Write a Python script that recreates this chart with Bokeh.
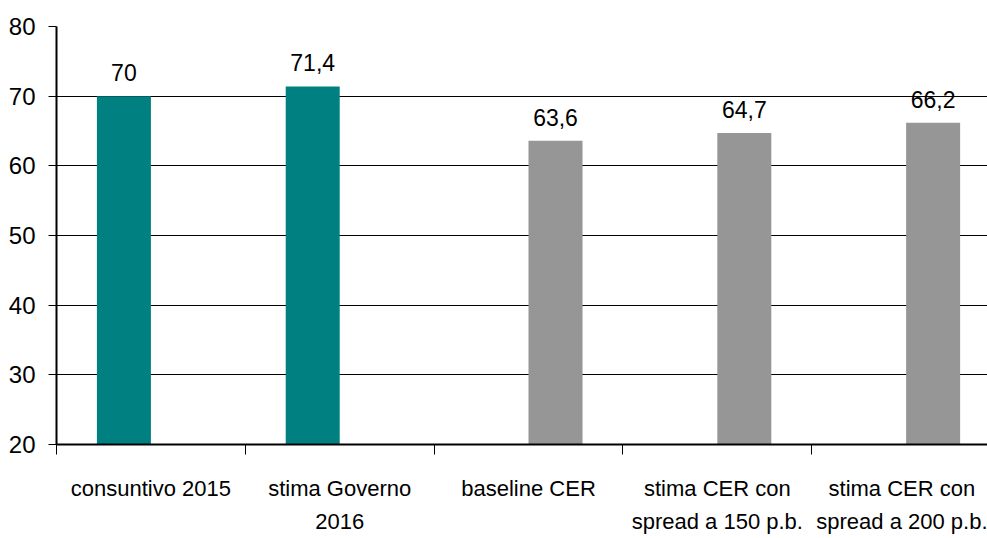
import numpy as np
from bokeh.plotting import figure
from bokeh.models import Range1d, FixedTicker, ColumnDataSource, LabelSet
from bokeh.core.properties import value
from bokeh.embed import file_html
from bokeh.resources import INLINE

categories = ["consuntivo 2015", "stima Governo\n2016", "baseline CER",
              "stima CER con\nspread a 150 p.b.", "stima CER con\nspread a 200 p.b."]
teal_values = [70.0, 71.4, None, None, None]
gray_values = [None, None, 63.6, 64.7, 66.2]
teal_labels = ["70", "71,4", "", "", ""]
gray_labels = ["", "", "63,6", "64,7", "66,2"]
y_ticks = [20, 30, 40, 50, 60, 70, 80]

FONT = "Liberation Sans"
TEAL = "#008080"
GRAY = "#969696"

n = len(categories)
centers = np.arange(n) + 0.5
bar_w = 0.286
off = 0.143

p = figure(frame_width=931, frame_height=418, output_backend="svg", toolbar_location=None,
           x_range=Range1d(0, 4.931), y_range=Range1d(20, 80),
           min_border_left=56, min_border_top=26, min_border_right=0, min_border_bottom=0)
p.outline_line_color = None
p.background_fill_color = "white"
p.border_fill_color = "white"

def series(vals, labels, dx):
    xs, ys, ls = [], [], []
    for c, v, l in zip(centers, vals, labels):
        if v is not None:
            xs.append(c + dx); ys.append(v); ls.append(l)
    return ColumnDataSource(dict(x=xs, top=ys, lab=ls))

src_t = series(teal_values, teal_labels, -off)
src_g = series(gray_values, gray_labels, off)
p.vbar(x="x", top="top", bottom=20, width=bar_w, source=src_t, fill_color=TEAL, line_color=None)
p.vbar(x="x", top="top", bottom=20, width=bar_w, source=src_g, fill_color=GRAY, line_color=None)

for src in (src_t, src_g):
    p.add_layout(LabelSet(x="x", y="top", text="lab", source=src, x_offset=0, y_offset=15,
                          text_align="center", text_baseline="bottom",
                          text_font=value(FONT), text_font_size=value("23px"),
                          text_color=value("black")))

# y axis
p.yaxis.ticker = FixedTicker(ticks=y_ticks)
p.yaxis.major_label_text_font = FONT
p.yaxis.major_label_text_font_size = "24px"
p.yaxis.major_label_text_color = "black"
p.yaxis.major_tick_in = 0
p.yaxis.major_tick_out = 8
p.yaxis.major_tick_line_color = "black"
p.yaxis.major_tick_line_width = 1
p.yaxis.minor_tick_line_color = None
p.yaxis.axis_line_color = "black"
p.yaxis.axis_line_width = 2
p.yaxis.major_label_standoff = 13

# x axis
p.xaxis.ticker = FixedTicker(ticks=list(centers), minor_ticks=list(range(n + 1)))
p.xaxis.major_label_overrides = {float(c): lab for c, lab in zip(centers, categories)}
p.xaxis.major_label_text_font = FONT
p.xaxis.major_label_text_font_size = "22px"
p.xaxis.major_label_text_color = "black"
p.xaxis.major_label_text_line_height = 1.33
p.xaxis.major_tick_line_color = None
p.xaxis.minor_tick_in = 0
p.xaxis.minor_tick_out = 10
p.xaxis.minor_tick_line_color = "black"
p.xaxis.axis_line_color = "black"
p.xaxis.axis_line_width = 2
p.xaxis.major_label_standoff = 21

p.xgrid.grid_line_color = None
p.ygrid.grid_line_color = "black"
p.ygrid.grid_line_width = 1

open("out.html", "w").write(file_html(p, INLINE))
